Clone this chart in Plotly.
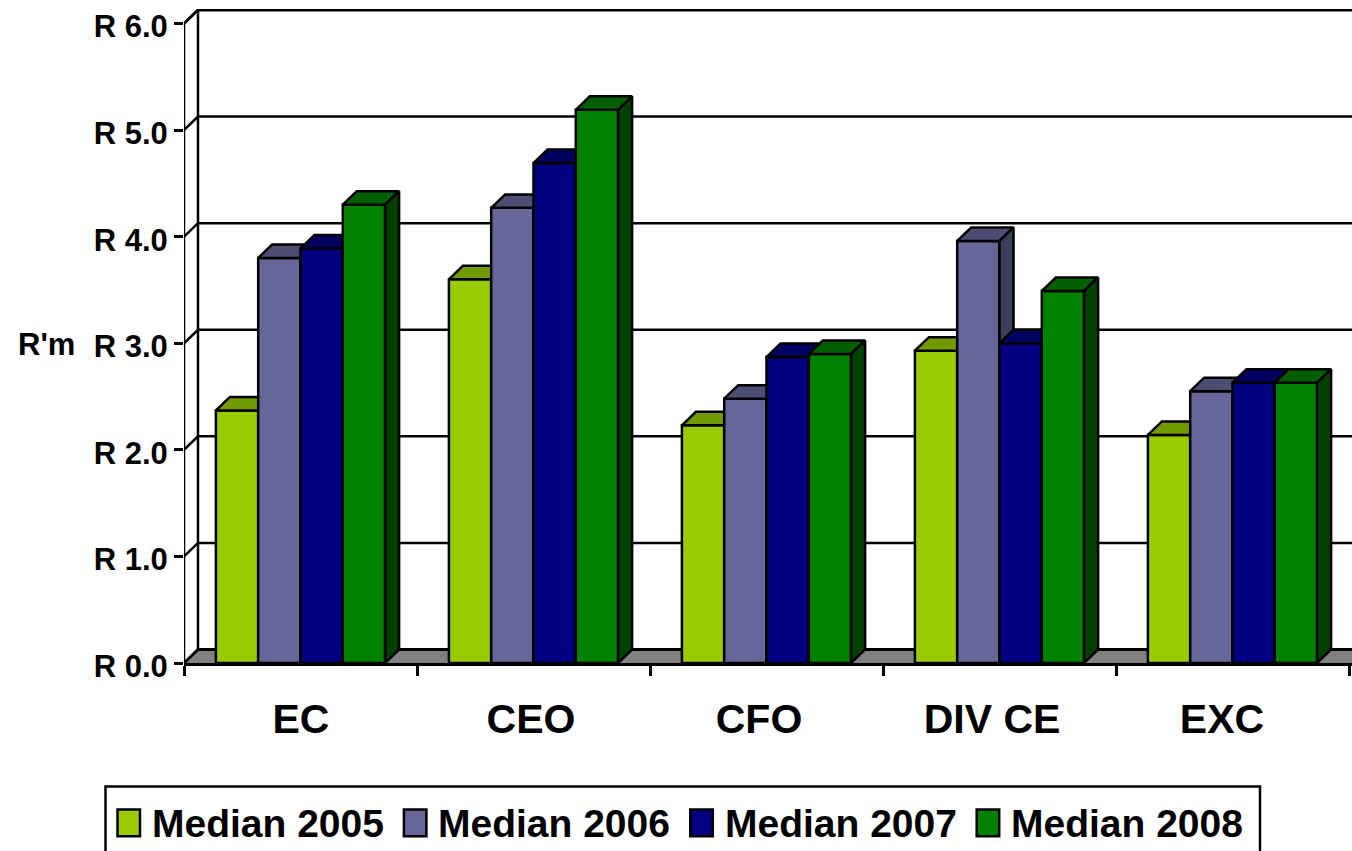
import plotly.graph_objects as go

categories = ["EC", "CEO", "CFO", "DIV CE", "EXC"]
series_names = ["Median 2005", "Median 2006", "Median 2007", "Median 2008"]
median_2005 = [2.37, 3.60, 2.23, 2.93, 2.14]
median_2006 = [3.80, 4.27, 2.48, 3.96, 2.55]
median_2007 = [3.89, 4.69, 2.87, 3.00, 2.63]
median_2008 = [4.30, 5.19, 2.90, 3.49, 2.63]
y_ticks = [0, 1, 2, 3, 4, 5, 6]
y_tick_labels = ["R 0.0", "R 1.0", "R 2.0", "R 3.0", "R 4.0", "R 5.0", "R 6.0"]
front_colors = ["#99CC00", "#666699", "#000080", "#008000"]
top_colors = ["#739900", "#4D4D73", "#000060", "#006000"]
side_colors = ["#4D6600", "#3D3D5C", "#000050", "#004000"]

W, H = 1352, 851
L, T, B = 184, 9, 663.5
PX_X, PX_Y = 233.0, 106.67
DX, DY = 14 / PX_X, 13.5 / PX_Y
BAR_W = 42.3 / PX_X
XMAX = (W - L) / PX_X
YMAX = (B - T) / PX_Y
FONT = "Liberation Sans"
BLK = "#000000"
LW = 2.5
LABEL_CENTRES_PX = [301, 531, 759, 992, 1222]


def px(x):
    return (x - L) / (W - L)


def py(y):
    return (B - y) / (B - T)


fig = go.Figure()
shapes = []
annotations = []

# Back wall, left wall and floor live in the base subplot, under every series
fig.add_trace(go.Scatter(x=[0, DX, XMAX + 1, XMAX + 1, 0], y=[0, DY, DY, 0, 0], fill="toself",
                         fillcolor="#808080", mode="lines", line=dict(color="rgba(0,0,0,0)", width=0),
                         showlegend=False, hoverinfo="skip"))
for v in y_ticks[1:] + [0]:
    lw = 3 if v in (0, 6) else LW
    fig.add_trace(go.Scatter(x=[0, DX, XMAX + 1], y=[v, v + DY, v + DY], mode="lines",
                             line=dict(color=BLK, width=lw), showlegend=False, hoverinfo="skip"))
fig.add_trace(go.Scatter(x=[DX, DX], y=[DY, 6 + DY], mode="lines", line=dict(color=BLK, width=LW),
                         showlegend=False, hoverinfo="skip"))
fig.add_trace(go.Scatter(x=[0, 0], y=[0, 6], mode="lines", line=dict(color=BLK, width=LW),
                         showlegend=False, hoverinfo="skip"))

# One overlaid subplot per series so that later series paint over earlier ones
all_values = [median_2005, median_2006, median_2007, median_2008]
for s, values in enumerate(all_values):
    xa = f"x{s + 2}"
    ya = f"y{s + 2}"
    off = (-2 + s) * BAR_W
    fig.add_trace(go.Bar(x=[i + 0.5 for i in range(len(categories))], y=values, width=BAR_W, offset=off,
                         name=series_names[s], xaxis=xa, yaxis=ya,
                         marker=dict(color=front_colors[s], line=dict(color=BLK, width=LW)),
                         showlegend=False))
    for i, v in enumerate(values):
        x0 = i + 0.5 + off
        x1 = x0 + BAR_W
        fig.add_trace(go.Scatter(x=[x0, x0 + DX, x1 + DX, x1, x0], y=[v, v + DY, v + DY, v, v],
                                 fill="toself", fillcolor=top_colors[s], mode="lines",
                                 line=dict(color=BLK, width=LW), xaxis=xa, yaxis=ya,
                                 showlegend=False, hoverinfo="skip"))
        fig.add_trace(go.Scatter(x=[x1, x1 + DX, x1 + DX, x1, x1], y=[0, DY, v + DY, v, 0],
                                 fill="toself", fillcolor=side_colors[s], mode="lines",
                                 line=dict(color=BLK, width=LW), xaxis=xa, yaxis=ya,
                                 showlegend=False, hoverinfo="skip"))

# Custom legend: box runs past the bottom of the page as in the reference
shapes.append(dict(type="rect", xref="paper", yref="paper", x0=px(105.5), x1=px(1260), y0=py(787), y1=py(900),
                   line=dict(color=BLK, width=LW), fillcolor="white"))
for s, name in enumerate(series_names):
    x_off = 286.4 * s
    shapes.append(dict(type="rect", xref="paper", yref="paper", x0=px(117.5 + x_off), x1=px(140 + x_off),
                       y0=py(810), y1=py(837), line=dict(color=BLK, width=LW), fillcolor=front_colors[s]))
    annotations.append(dict(text=f"<b>{name}</b>", xref="paper", yref="paper", x=px(150 + x_off), y=py(824),
                            xanchor="left", yanchor="middle", showarrow=False, font=dict(family=FONT, size=39, color=BLK)))
annotations.append(dict(text="<b>R'm</b>", xref="paper", yref="paper", x=px(46), y=py(345), xanchor="center",
                        yanchor="middle", showarrow=False, font=dict(family=FONT, size=31, color=BLK)))

layout = dict(
    width=W, height=H, autosize=False,
    margin=dict(l=L, r=0, t=T, b=H - B, pad=0, autoexpand=False),
    paper_bgcolor="white", plot_bgcolor="white",
    barmode="overlay", shapes=shapes, annotations=annotations, showlegend=False,
    font=dict(family=FONT, color=BLK),
    xaxis=dict(range=[0, XMAX], tickmode="array", tickvals=list(range(6)), ticktext=[""] * 6,
               ticks="outside", ticklen=10, tickwidth=LW, tickcolor=BLK, showgrid=False, zeroline=False,
               showline=True, linecolor=BLK, linewidth=3),
    yaxis=dict(range=[0, YMAX], tickmode="array", tickvals=y_ticks, ticktext=[f"<b>{t}</b>" for t in y_tick_labels],
               ticks="outside", ticklen=9, tickwidth=LW, tickcolor=BLK, showgrid=False, zeroline=False,
               showline=False, ticklabelstandoff=0, ticklabelshift=3, tickfont=dict(family=FONT, size=31, color=BLK)),
)
for n in range(2, 6):
    layout[f"xaxis{n}"] = dict(overlaying="x", matches="x", anchor=f"y{n}", showgrid=False, zeroline=False, showline=False,
                               showticklabels=False, ticks="")
    layout[f"yaxis{n}"] = dict(overlaying="y", matches="y", anchor=f"x{n}", showgrid=False, zeroline=False, showline=False,
                               showticklabels=False, ticks="")
layout["xaxis2"].update(showticklabels=True, side="bottom", tickmode="array",
                        tickvals=[(c - L) / PX_X for c in LABEL_CENTRES_PX],
                        ticktext=[f"<b>{c}</b>" for c in categories], ticklabelstandoff=28,
                        tickfont=dict(family=FONT, size=41, color=BLK))
fig.update_layout(**layout)
fig.write_html("out.html", config=dict(displayModeBar=False),
               default_width=f"{W}px", default_height=f"{H}px",
               post_script="document.body.style.margin='0';document.documentElement.style.overflow='hidden';")
